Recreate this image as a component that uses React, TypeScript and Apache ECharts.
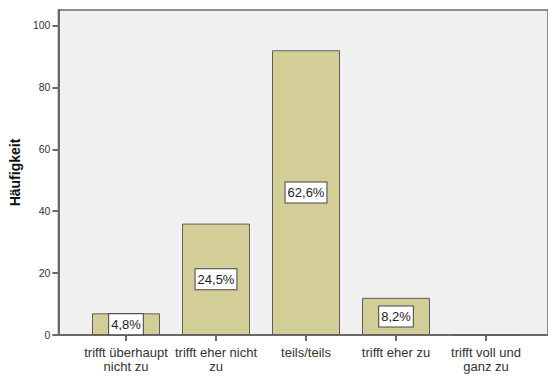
import React, { useEffect, useRef } from "react";
import * as echarts from "echarts";

const categories = [
  "trifft überhaupt\nnicht zu",
  "trifft eher nicht\nzu",
  "teils/teils",
  "trifft eher zu",
  "trifft voll und\nganz zu",
];
const counts = [7, 36, 92, 12, 0];
const percentLabels = ["4,8%", "24,5%", "62,6%", "8,2%", ""];
const yTicks = [0, 20, 40, 60, 80, 100];
const yAxisTitle = "Häufigkeit";

const FONT = "'Liberation Sans', Arial, sans-serif";
const AXIS = "#6a6a6a";

export default function App() {
  const ref = useRef<HTMLDivElement>(null);
  useEffect(() => {
    document.body.style.margin = "0";
    const chart = echarts.init(ref.current!, null, { renderer: "svg" });
    chart.setOption({
      animation: false,
      textStyle: { fontFamily: FONT },
      grid: [
        {
          left: 56,
          right: -3,
          top: 10,
          bottom: 41,
          show: true,
          backgroundColor: "#f0f0f0",
          borderColor: AXIS,
          borderWidth: 1.5,
        },
        { left: 81, width: 450, top: 10, bottom: 41 },
      ],
      xAxis: [
        {
          gridIndex: 0,
          type: "value",
          min: 0,
          max: 1,
          axisLine: { show: true, onZero: false, lineStyle: { color: AXIS, width: 2 } },
          axisTick: { show: false },
          axisLabel: { show: false },
          splitLine: { show: false },
        },
        {
          gridIndex: 1,
          type: "category",
          data: categories,
          axisLine: { show: false },
          axisTick: {
            show: true,
            alignWithLabel: true,
            length: 6,
            lineStyle: { color: AXIS, width: 2 },
          },
          axisLabel: {
            interval: 0,
            margin: 10,
            color: "#333",
            fontSize: 13,
            lineHeight: 14,
            fontFamily: FONT,
            align: "center",
          },
        },
      ],
      yAxis: [
        {
          gridIndex: 0,
          type: "value",
          min: 0,
          max: 105,
          name: yAxisTitle,
          nameLocation: "middle",
          nameGap: 29,
          nameTextStyle: { fontWeight: "bold", fontSize: 14, color: "#111", fontFamily: FONT },
          axisLine: { show: true, lineStyle: { color: AXIS, width: 2 } },
          axisTick: {
            show: true,
            customValues: yTicks,
            length: 6,
            lineStyle: { color: AXIS, width: 2 },
          },
          axisLabel: {
            customValues: yTicks,
            margin: 8,
            color: "#333",
            fontSize: 10.5,
            fontFamily: FONT,
          },
          splitLine: { show: false },
        },
        {
          gridIndex: 1,
          type: "value",
          min: 0,
          max: 105,
          show: false,
          splitLine: { show: false },
        },
      ],
      series: [
        {
          type: "bar",
          xAxisIndex: 1,
          yAxisIndex: 1,
          data: counts.map((v, i) => ({
            value: v,
            label: { show: percentLabels[i] !== "" },
          })),
          barWidth: 68,
          itemStyle: { color: "#d3ce97", borderColor: "#5e5e5e", borderWidth: 1 },
          label: {
            show: true,
            position: "inside",
            formatter: (p: any) => percentLabels[p.dataIndex],
            color: "#222",
            fontSize: 13,
            lineHeight: 15,
            fontFamily: FONT,
            backgroundColor: "#ffffff",
            borderColor: "#444",
            borderWidth: 1,
            padding: [3, 2, 2, 2],
          },
        },
      ],
    });
    return () => chart.dispose();
  }, []);
  return <div ref={ref} style={{ width: 548, height: 376 }} />;
}
